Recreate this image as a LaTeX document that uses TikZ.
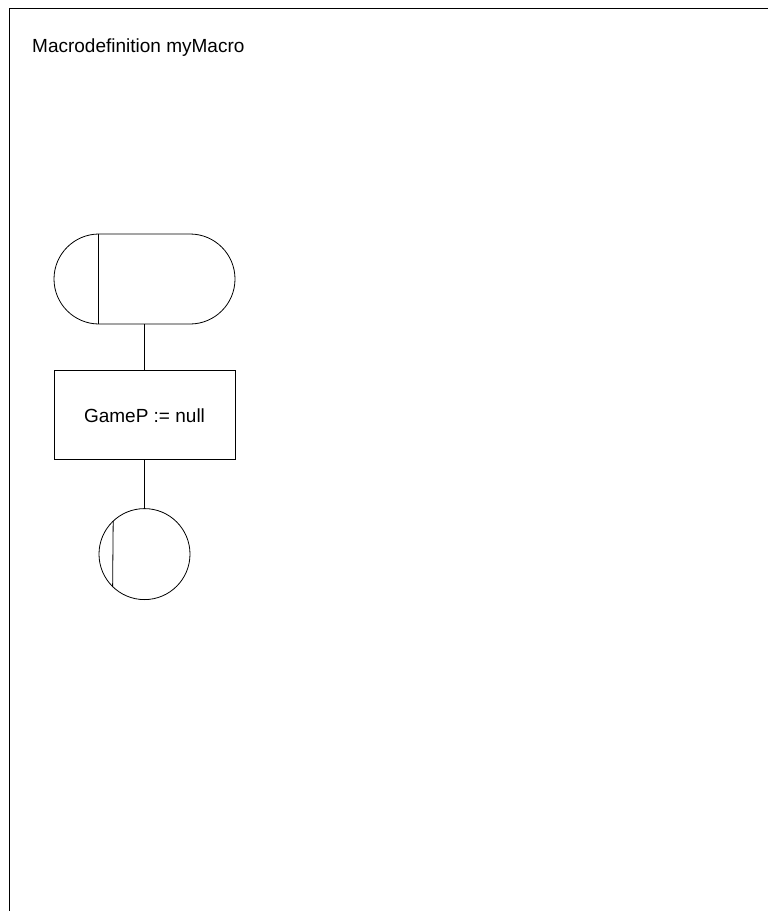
\documentclass[tikz,border=0pt]{standalone}
\usepackage{fontspec}
\setmainfont{Liberation Sans}
\usepackage{tikz}
\usetikzlibrary{positioning}
\tikzset{
  sdlline/.style={line width=.8pt, draw=black},
  sdlstart/.style={sdlline, rectangle, rounded corners=45pt, minimum width=181pt, minimum height=90pt, inner sep=0pt},
  sdltask/.style={sdlline, rectangle, align=center, minimum width=181pt, minimum height=89pt, inner sep=0pt},
  sdlstop/.style={sdlline, circle, minimum size=91pt, inner sep=0pt},
  sdltitle/.style={anchor=base west, inner sep=0pt}
}

\begin{document}
\begin{tikzpicture}[x=1pt, y=-1pt, font=\fontsize{19}{23}\selectfont]
  \useasboundingbox (0,0) rectangle (768,911);
  \draw[sdlline] (9,911) -- (9,8) -- (768,8);
  \node[sdltitle] (title) at (32,52) {Macrodefinition myMacro};
  \node[sdlstart] (start) at (144.5,279) {};
  \node[sdltask, below=46pt of start] (init) {GameP := null};
  \node[sdlstop, below=48pt of init] (stop) {};
  \draw[sdlline] ([xshift=45pt]start.north west) -- ([xshift=45pt]start.south west);
  \draw[sdlline] (stop.133.8) -- (stop.226.2);
  \draw[sdlline] (start) -- (init);
  \draw[sdlline] (init) -- (stop);
\end{tikzpicture}
\end{document}
